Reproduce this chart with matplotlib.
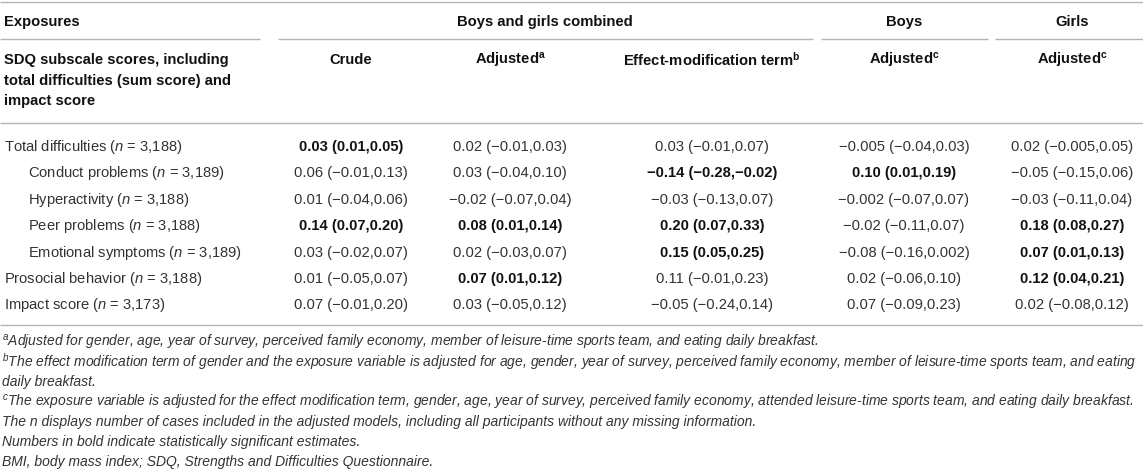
import matplotlib
matplotlib.use("Agg")
from matplotlib import pyplot as plt

plt.rcParams['font.family'] = ['Liberation Sans', 'DejaVu Sans']
plt.rcParams['mathtext.fontset'] = 'custom'
plt.rcParams['mathtext.rm'] = 'Liberation Sans'
plt.rcParams['mathtext.it'] = 'Liberation Sans:italic'
plt.rcParams['mathtext.bf'] = 'Liberation Sans:bold'

# table content
group_headers = ["Boys and girls combined", "Boys", "Girls"]
col_headers = ["Crude", "Adjusted", "Effect-modification term", "Adjusted", "Adjusted"]
col_marks = ["", "a", "b", "c", "c"]

row_labels = ["Total difficulties", "Conduct problems", "Hyperactivity", "Peer problems",
              "Emotional symptoms", "Prosocial behavior", "Impact score"]
row_n = ["3,188", "3,189", "3,188", "3,188", "3,189", "3,188", "3,173"]
row_indent = [0, 1, 1, 1, 1, 0, 0]

crude = ["0.03 (0.01,0.05)", "0.06 (−0.01,0.13)", "0.01 (−0.04,0.06)", "0.14 (0.07,0.20)",
         "0.03 (−0.02,0.07)", "0.01 (−0.05,0.07)", "0.07 (−0.01,0.20)"]
crude_bold = [1, 0, 0, 1, 0, 0, 0]
adjusted = ["0.02 (−0.01,0.03)", "0.03 (−0.04,0.10)", "−0.02 (−0.07,0.04)", "0.08 (0.01,0.14)",
            "0.02 (−0.03,0.07)", "0.07 (0.01,0.12)", "0.03 (−0.05,0.12)"]
adjusted_bold = [0, 0, 0, 1, 0, 1, 0]
effect = ["0.03 (−0.01,0.07)", "−0.14 (−0.28,−0.02)", "−0.03 (−0.13,0.07)", "0.20 (0.07,0.33)",
          "0.15 (0.05,0.25)", "0.11 (−0.01,0.23)", "−0.05 (−0.24,0.14)"]
effect_bold = [0, 1, 0, 1, 1, 0, 0]
boys = ["−0.005 (−0.04,0.03)", "0.10 (0.01,0.19)", "−0.002 (−0.07,0.07)", "−0.02 (−0.11,0.07)",
        "−0.08 (−0.16,0.002)", "0.02 (−0.06,0.10)", "0.07 (−0.09,0.23)"]
boys_bold = [0, 1, 0, 0, 0, 0, 0]
girls = ["0.02 (−0.005,0.05)", "−0.05 (−0.15,0.06)", "−0.03 (−0.11,0.04)", "0.18 (0.08,0.27)",
         "0.07 (0.01,0.13)", "0.12 (0.04,0.21)", "0.02 (−0.08,0.12)"]
girls_bold = [0, 0, 0, 1, 1, 1, 0]

footnotes = [
    "$^{a}$Adjusted for gender, age, year of survey, perceived family economy, member of leisure-time sports team, and eating daily breakfast.",
    "$^{b}$The effect modification term of gender and the exposure variable is adjusted for age, gender, year of survey, perceived family economy, member of leisure-time sports team, and eating",
    "daily breakfast.",
    "$^{c}$The exposure variable is adjusted for the effect modification term, gender, age, year of survey, perceived family economy, attended leisure-time sports team, and eating daily breakfast.",
    "The n displays number of cases included in the adjusted models, including all participants without any missing information.",
    "Numbers in bold indicate statistically significant estimates.",
    "BMI, body mass index; SDQ, Strengths and Difficulties Questionnaire.",
]

W, H = 1143, 474
fig = plt.figure(figsize=(W / 100, H / 100), dpi=100)
ax = fig.add_axes([0, 0, 1, 1])
ax.set_xlim(0, W)
ax.set_ylim(H, 0)
ax.axis('off')

TXT = '#333333'
BOLD = '#111111'
LINE = '#b4b4b4'
FS = 10.6
FS_NOTE = 10.0

col_x = [351, 510, 712, 904, 1072]
group_x = [545, 904, 1072]
row_y0, row_dy = 147, 26.4

# rules
ax.hlines(2, 0, W, color=LINE, lw=1.0)
for x0, x1 in [(0, 260), (278, 813), (821, 988), (995, W)]:
    ax.hlines(39, x0, x1, color=LINE, lw=1.0)
ax.hlines(123, 0, W, color=LINE, lw=1.0)
ax.hlines(325, 0, W, color=LINE, lw=1.0)

# header rows
ax.text(4, 22, "Exposures", fontsize=FS, fontweight='bold', color=BOLD, va='center')
for gx, g in zip(group_x, group_headers):
    ax.text(gx, 22, g, fontsize=FS, fontweight='bold', color=BOLD, va='center', ha='center')
for i, line in enumerate(["SDQ subscale scores, including", "total difficulties (sum score) and", "impact score"]):
    ax.text(4, 60 + i * 20.5, line, fontsize=FS, fontweight='bold', color=BOLD, va='center')
for cx, h, m in zip(col_x, col_headers, col_marks):
    label = h + (r"$^{\mathbf{%s}}$" % m if m else "")
    ax.text(cx, 60, label, fontsize=FS, fontweight='bold', color=BOLD, va='center', ha='center')

# body rows
for i, (lab, n, ind) in enumerate(zip(row_labels, row_n, row_indent)):
    y = row_y0 + i * row_dy
    ax.text(4 + ind * 24, y, lab + " ($n$ = " + n + ")", fontsize=FS, color=TXT, va='center')

columns = [(crude, crude_bold), (adjusted, adjusted_bold), (effect, effect_bold),
           (boys, boys_bold), (girls, girls_bold)]
for cx, (vals, bolds) in zip(col_x, columns):
    for i, (v, b) in enumerate(zip(vals, bolds)):
        y = row_y0 + i * row_dy
        ax.text(cx, y, v, fontsize=FS, ha='center', va='center',
                fontweight='bold' if b else 'normal', color=BOLD if b else TXT)

# notes
for i, note in enumerate(footnotes):
    ax.text(2, 342 + i * 20, note, fontsize=FS_NOTE, style='italic', color=TXT, va='center')

fig.savefig("out.png", dpi=100)
